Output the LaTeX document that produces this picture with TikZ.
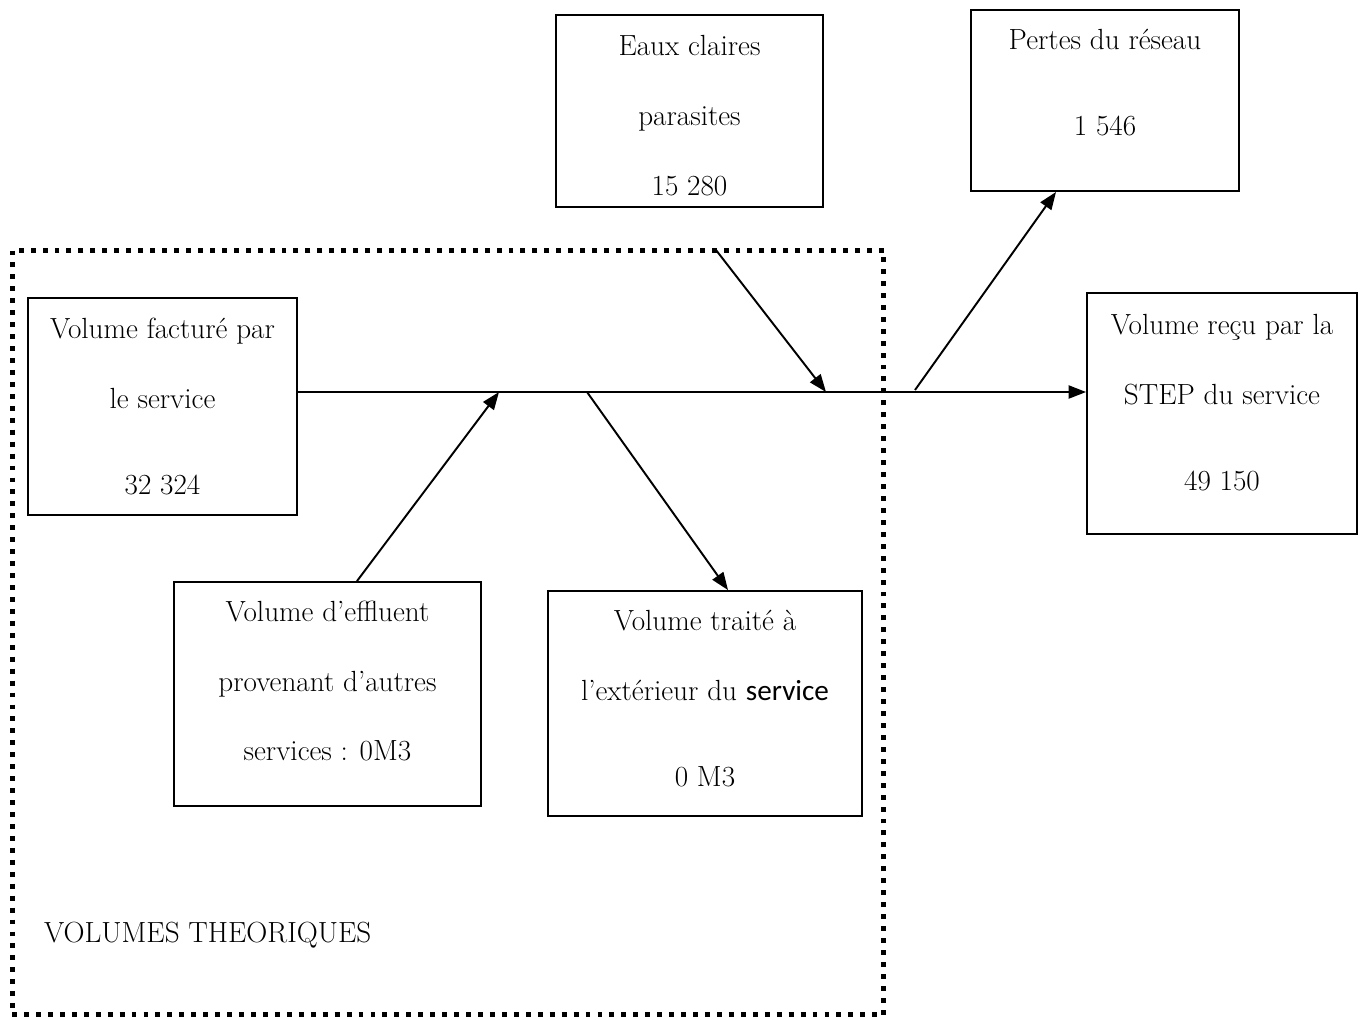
\documentclass[tikz,border=0pt]{standalone}
\usepackage{fontspec}
\usepackage{tikz}
\usetikzlibrary{arrows.meta}
\newfontfamily\svcfont{Carlito}

\begin{document}
\begin{tikzpicture}[x=0.02cm,y=-0.02cm,
    >={Triangle[length=10pt,width=7.5pt]},
    box/.style={draw,line width=1.1pt,inner sep=0pt},
    txt/.style={align=center,font=\fontsize{16.6}{19}\selectfont},
    flow/.style={line width=1.1pt},
    zone/.style={draw,line width=2.8pt,dash pattern=on 2.8pt off 4pt,inner sep=0pt}]
      \useasboundingbox (0,0) rectangle (1362,1019);
      \node[zone,minimum width=17.44cm,minimum height=15.3cm] (theo) at (448,632.5) {};
      \node[box,minimum width=5.34cm,minimum height=3.84cm] (eaux)   at ( 689.5,111  ) {};
      \node[box,minimum width=5.36cm,minimum height=3.62cm] (pertes) at (1105  ,100.5) {};
      \node[box,minimum width=5.38cm,minimum height=4.34cm] (fact)   at ( 162.5,406.5) {};
      \node[box,minimum width=5.40cm,minimum height=4.82cm] (recu)   at (1222  ,413.5) {};
      \node[box,minimum width=6.14cm,minimum height=4.48cm] (effl)   at ( 327.5,694  ) {};
      \node[box,minimum width=6.28cm,minimum height=4.50cm] (trait)  at ( 705  ,703.5) {};
      \node[txt,yshift=-0.09cm] (teaux)   at (eaux)   {Eaux claires\\[20.8pt]parasites\\[20.8pt]15 280};
      \node[txt,yshift=0.35cm]  (tpertes) at (pertes) {Pertes du réseau\\[29.9pt]1 546};
      \node[txt]                (tfact)   at (fact)   {Volume facturé par\\[20.8pt]le service\\[29.9pt]32 324};
      \node[txt,yshift=0.21cm]  (trecu)   at (recu)   {Volume reçu par la\\[20.8pt]STEP du service\\[29.9pt]49 150};
      \node[txt,yshift=0.26cm]  (teffl)   at (effl)   {Volume d’effluent\\[20.8pt]provenant d’autres\\[20.8pt]services : 0M3};
      \node[txt,yshift=0.1cm]   (ttrait)  at (trait)  {Volume traité à\\[20.8pt]l’extérieur du {\svcfont service}\\[29.9pt]0 M3};
      \node[txt,anchor=west]    (ttheo)   at (38,935) {VOLUMES THEORIQUES};
      \coordinate (main) at (0,392);
      \coordinate (ein)  at (499,392);
      \coordinate (eout) at (587,392);
      \coordinate (ecp)  at (826,392);
      \coordinate (ecs)  at (716,250);
      \coordinate (ploss) at (915,390);
      \draw[flow,->] (fact.east |- main) -- (recu.west |- main);
      \draw[flow,->] ([xshift=0.59cm]effl.north) -- (ein);
      \draw[flow,->] (eout) -- ([xshift=0.46cm]trait.north);
      \draw[flow,->] (ecs) -- (ecp);
      \draw[flow,->] (ploss) -- ([xshift=-0.98cm]pertes.south);
\end{tikzpicture}
\end{document}
